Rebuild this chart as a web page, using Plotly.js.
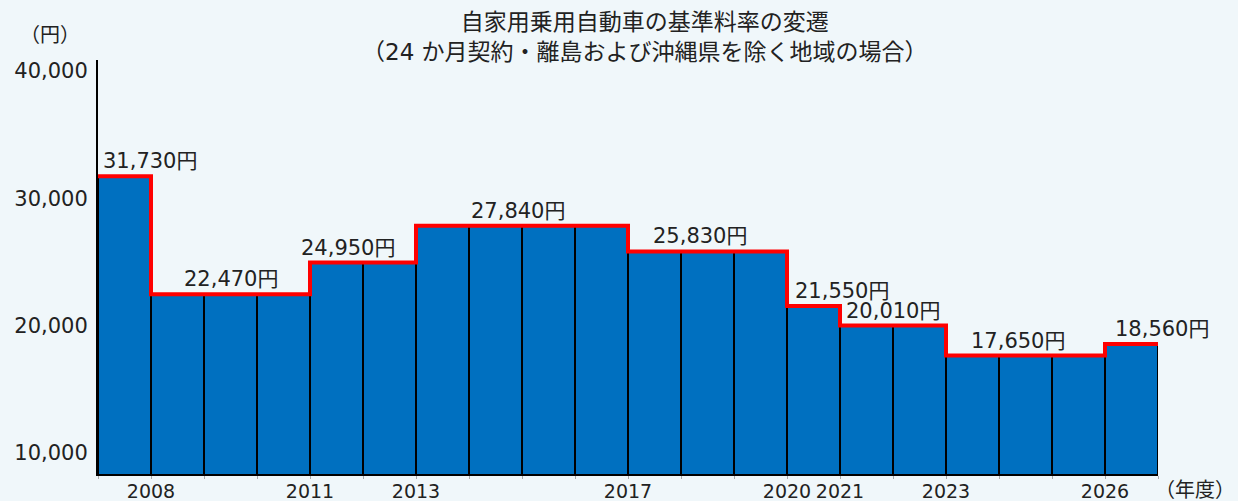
<!DOCTYPE html>
<html>
<head>
<meta charset="utf-8">
<script src="https://cdn.plot.ly/plotly-3.0.1.min.js"></script>
<style>
  html, body { margin: 0; padding: 0; background: #F0F7FA; }
  #chart { width: 1238px; height: 501px; }
</style>
</head>
<body>
<div id="chart"></div>
<script>
// ---- data ----
const years = [2007, 2008, 2009, 2010, 2011, 2012, 2013, 2014, 2015, 2016,
               2017, 2018, 2019, 2020, 2021, 2022, 2023, 2024, 2025, 2026];
const rates = [31730, 22470, 22470, 22470, 24950, 24950, 27840, 27840, 27840, 27840,
               25830, 25830, 25830, 21550, 20010, 20010, 17650, 17650, 17650, 18560];
const labeledYears = [2008, 2011, 2013, 2017, 2020, 2021, 2023, 2026];
const titleText = '自家用乗用自動車の基準料率の変遷<br>（24 か月契約・離島および沖縄県を除く地域の場合）';
const yUnit = '（円）';
const xUnit = '（年度）';

// ---- derived ----
const lastYear = years[years.length - 1];
const barX = years.map(y => y + 0.5);
const stepX = years.concat([lastYear + 1]);
const stepY = rates.concat([rates[rates.length - 1]]);

// segments of equal rate
const segments = [];
for (let i = 0; i < years.length; i++) {
  if (i === 0 || rates[i] !== rates[i - 1]) {
    segments.push({start: years[i], end: years[i] + 1, value: rates[i]});
  } else {
    segments[segments.length - 1].end = years[i] + 1;
  }
}

const allTicks = [];
for (let y = years[0]; y <= lastYear + 1; y++) allTicks.push(y);
const tickText = allTicks.map(y => labeledYears.includes(y) ? String(y) : '');

const FONT = 'DejaVu Sans, "Noto Sans CJK JP", sans-serif';
// style: horizontal nudges of value labels (px)
const labelShift = [3, 0, -15, -4, -8, 28, 0, -8, 30];

const annotations = segments.map((s, i) => ({
  x: i === 0 ? s.start : (s.start + s.end) / 2,
  y: s.value,
  xref: 'x', yref: 'y',
  text: s.value.toLocaleString('en-US') + '円',
  showarrow: false,
  xanchor: i === 0 ? 'left' : 'center',
  yanchor: 'bottom',
  xshift: labelShift[i] || 0,
  yshift: 1,
  font: {family: FONT, size: 21, color: '#222'}
}));
annotations.push({
  text: titleText, xref: 'paper', yref: 'paper', x: 0.516, y: 1.0556,
  xanchor: 'center', yanchor: 'middle', showarrow: false, align: 'center',
  font: {family: FONT, size: 23, color: '#222'}
});
annotations.push({
  text: yUnit, xref: 'paper', yref: 'paper', x: -0.0453, y: 1.0604,
  xanchor: 'center', yanchor: 'middle', showarrow: false,
  font: {family: FONT, size: 20, color: '#222'}
});
annotations.push({
  text: xUnit, xref: 'paper', yref: 'paper', x: 1.0745, y: -0.039,
  xanchor: 'right', yanchor: 'middle', showarrow: false,
  font: {family: FONT, size: 20, color: '#222'}
});

const traces = [
  {
    type: 'bar', x: barX, y: rates, width: 1,
    marker: {color: '#0070C0', line: {color: '#000', width: 2}},
    hoverinfo: 'skip', showlegend: false
  },
  {
    type: 'scatter', mode: 'lines', x: stepX, y: stepY,
    line: {color: '#FF0000', width: 4, shape: 'hv'},
    hoverinfo: 'skip', showlegend: false, cliponaxis: false
  }
];

const layout = {
  width: 1238, height: 501,
  paper_bgcolor: '#F0F7FA', plot_bgcolor: '#F0F7FA',
  margin: {l: 98, r: 80, t: 60, b: 27},
  showlegend: false,
  bargap: 0,
  xaxis: {
    range: [years[0], lastYear + 1],
    tickmode: 'array', tickvals: allTicks, ticktext: tickText,
    ticks: 'outside', ticklen: 3, tickcolor: '#aaa', tickwidth: 1,
    ticklabelstandoff: -4,
    showline: true, linecolor: '#000', linewidth: 2,
    showgrid: false, zeroline: false, fixedrange: true,
    tickfont: {family: FONT, size: 19, color: '#222'}
  },
  yaxis: {
    range: [8350, 40860],
    tickmode: 'array', tickvals: [10000, 20000, 30000, 40000],
    tickformat: ',d',
    ticks: '', showline: true, linecolor: '#000', linewidth: 2,
    showgrid: false, zeroline: false, fixedrange: true,
    ticklabelstandoff: 4,
    tickfont: {family: FONT, size: 21, color: '#222'}
  },
  annotations: annotations
};

Plotly.newPlot('chart', traces, layout, {displayModeBar: false, staticPlot: true});
</script>
</body>
</html>
